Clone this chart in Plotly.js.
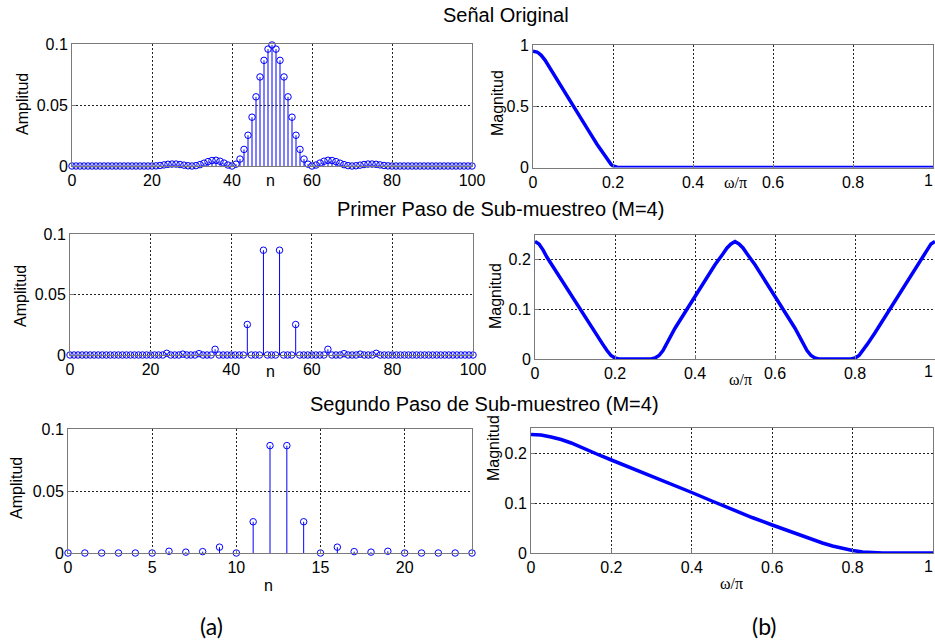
<!DOCTYPE html>
<html>
<head>
<meta charset="utf-8">
<script src="https://cdn.plot.ly/plotly-3.0.1.min.js"></script>
<style>html,body{margin:0;padding:0;background:#fff;}#chart{width:935px;height:642px;}</style>
</head>
<body>
<div id="chart"></div>
<script>
// ---------- DATA ----------
const nOrig = [0,1,2,3,4,5,6,7,8,9,10,11,12,13,14,15,16,17,18,19,20,21,22,23,24,25,26,27,28,29,30,31,32,33,34,35,36,37,38,39,40,41,42,43,44,45,46,47,48,49,50,51,52,53,54,55,56,57,58,59,60,61,62,63,64,65,66,67,68,69,70,71,72,73,74,75,76,77,78,79,80,81,82,83,84,85,86,87,88,89,90,91,92,93,94,95,96,97,98,99,100];
const hOrig = [
  0,0,0,0,0,0,0,0,0,0,
  0,0,0,0,0,0,0,0,0,0,
  0,0.0001,0.0004,0.0009,0.0014,0.0016,0.0016,0.0012,0.0007,0.0002,
  0,0.0003,0.0011,0.0023,0.0036,0.0045,0.0047,0.0039,0.0024,0.0008,
  0,0.0015,0.0057,0.0136,0.0252,0.0400,0.0567,0.0730,0.0866,0.0958,
  0.0992,0.0958,0.0866,0.0730,0.0567,0.0400,0.0252,0.0136,0.0057,0.0015,
  0,0.0008,0.0024,0.0039,0.0047,0.0045,0.0036,0.0023,0.0011,0.0003,
  0,0.0002,0.0007,0.0012,0.0016,0.0016,0.0014,0.0009,0.0004,0.0001,
  0,0,0,0,0,0,0,0,0,0,
  0,0,0,0,0,0,0,0,0,0,
  0];
const hStep1 = [
  0,0,0,0,0,0,0,0,0,0,
  0,0,0,0,0,0,0,0,0,0,
  0,0,0,0,0.0014,0,0,0,0.0007,0,
  0,0,0.0011,0,0,0,0.0047,0,0,0,
  0,0,0,0,0.0252,0,0,0,0.0866,0,
  0,0,0.0866,0,0,0,0.0252,0,0,0,
  0,0,0,0,0.0047,0,0,0,0.0011,0,
  0,0,0.0007,0,0,0,0.0014,0,0,0,
  0,0,0,0,0,0,0,0,0,0,
  0,0,0,0,0,0,0,0,0,0,
  0];
const mDec = [0,1,2,3,4,5,6,7,8,9,10,11,12,13,14,15,16,17,18,19,20,21,22,23,24];
const hStep2 = [0,0,0,0,0,0,0.0014,0.0007,0.0011,0.0047,0,0.0252,0.0866,0.0866,0.0252,0,0.0047,0.0011,0.0007,0.0014,0,0,0,0,0];

const wOrig = [0,0.005,0.01,0.015,0.02,0.03,0.04,0.05,0.06,0.08,0.10,0.12,0.14,0.16,0.17,0.18,0.19,0.195,0.20,0.205,0.21,0.22,0.3,0.4,0.5,0.6,0.7,0.8,0.9,1.0];
const magOrig = [0.95,0.948,0.942,0.932,0.918,0.877,0.823,0.767,0.715,0.61,0.505,0.40,0.295,0.19,0.14,0.09,0.045,0.026,0.012,0.005,0.002,0,0,0,0,0,0,0,0,0];

const wStep1 = [0,0.01,0.02,0.03,0.05,0.10,0.15,0.17,0.18,0.19,0.20,0.21,0.29,0.30,0.31,0.32,0.35,0.40,0.45,0.47,0.48,0.49,0.50,0.51,0.52,0.53,0.55,0.60,0.65,0.68,0.69,0.70,0.71,0.79,0.80,0.81,0.82,0.83,0.85,0.90,0.95,0.97,0.98,0.99,1.0];
const magStep1 = [0.237,0.232,0.220,0.205,0.180,0.116,0.053,0.029,0.017,0.007,0.002,0,0,0.002,0.007,0.017,0.062,0.126,0.19,0.212,0.224,0.232,0.237,0.232,0.224,0.212,0.19,0.126,0.062,0.017,0.007,0.002,0,0,0.002,0.007,0.017,0.029,0.053,0.116,0.180,0.205,0.220,0.232,0.237];

const wStep2 = [0,0.025,0.05,0.075,0.1,0.125,0.15,0.175,0.2,0.25,0.3,0.35,0.4,0.45,0.5,0.55,0.6,0.65,0.7,0.725,0.75,0.775,0.8,0.825,0.85,0.875,0.9,0.95,1.0];
const magStep2 = [0.237,0.236,0.232,0.227,0.220,0.211,0.202,0.194,0.186,0.170,0.153,0.137,0.121,0.104,0.087,0.071,0.056,0.041,0.027,0.020,0.014,0.009,0.005,0.002,0.0005,0,0,0,0];

const titles = ['Señal Original','Primer Paso de Sub-muestreo (M=4)','Segundo Paso de Sub-muestreo (M=4)'];
const nTicks = [0,20,40,60,80,100];
const mTicks = [0,5,10,15,20];
const wTicks = [0,0.2,0.4,0.6,0.8,1];
const wTickText = ['0','0.2','0.4','0.6','0.8',''];   // the "1" at the page edge is drawn as a label below
const wEndLabel = '1';

// ---------- LAYOUT HELPERS ----------
const W = 935, H = 642;
const BLUE = '#0000ff';
const SANS = 'Arial, "Liberation Sans", sans-serif';
const dx = (a,b) => [a/W, Math.min(1,b/W)];
const dy = (top,bottom) => [1-bottom/H, 1-top/H];

function axisBase(extra){
  return Object.assign({
    showgrid:true, griddash:'2px,2px', gridcolor:'#222', gridwidth:1,
    showline:true, linecolor:'#7a7a7a', linewidth:1, mirror:true,
    ticks:'inside', ticklen:4, tickcolor:'#7a7a7a',
    zeroline:false, fixedrange:true, ticklabeloverflow:'allow',
    tickfont:{family:SANS, size:16, color:'#000'}
  }, extra);
}

function stem(x,y,xa,ya){
  return {
    type:'scatter', mode:'markers', x:x, y:y, xaxis:xa, yaxis:ya,
    cliponaxis:false, hoverinfo:'skip', showlegend:false,
    marker:{symbol:'circle-open', size:6.5, color:BLUE, line:{width:1, color:BLUE}},
    error_y:{type:'data', symmetric:false, array:y.map(()=>0), arrayminus:y, width:0, thickness:1, color:BLUE}
  };
}
function curve(x,y,xa,ya){
  return {type:'scatter', mode:'lines', x:x, y:y, xaxis:xa, yaxis:ya, cliponaxis:false,
    hoverinfo:'skip', showlegend:false, line:{color:BLUE, width:3.5}};
}

const data = [
  stem(nOrig,hOrig,'x','y'),
  curve(wOrig,magOrig,'x2','y2'),
  stem(nOrig,hStep1,'x3','y3'),
  curve(wStep1,magStep1,'x4','y4'),
  stem(mDec,hStep2,'x5','y5'),
  curve(wStep2,magStep2,'x6','y6')
];

const ampY = {range:[0,0.1], tickvals:[0,0.05,0.1], ticktext:['0','0.05','0.1']};
function ann(text,x,y,opts){
  return Object.assign({text:text, x:x/W, y:1-y/H, xref:'paper', yref:'paper',
    xanchor:'center', yanchor:'middle', showarrow:false,
    font:{family:SANS, size:16, color:'#000'}}, opts||{});
}
const serif = {font:{family:'"Times New Roman", "Liberation Serif", serif', size:16, color:'#000'}};
const rot = {textangle:-90};
const titleFont = {font:{family:SANS, size:20, color:'#000'}};
const capFont = {font:{family:'Lato, "Noto Sans", sans-serif', size:23, color:'#000'}};
const edge = {xanchor:'right', borderpad:0};

const layout = {
  width:W, height:H, margin:{l:0,r:0,t:0,b:0},
  paper_bgcolor:'#fff', plot_bgcolor:'#fff', showlegend:false,
  font:{family:SANS},
  xaxis: axisBase({domain:dx(72,472), range:[0,100], tickvals:nTicks, anchor:'y'}),
  yaxis: axisBase(Object.assign({domain:dy(44,166), anchor:'x'}, ampY)),
  xaxis2: axisBase({domain:dx(533,933), range:[0,1], tickvals:wTicks, ticktext:wTickText, anchor:'y2'}),
  yaxis2: axisBase({domain:dy(45,167.5), range:[0,1], tickvals:[0,0.5,1], ticktext:['0','0.5','1'], anchor:'x2'}),
  xaxis3: axisBase({domain:dx(70,473), range:[0,100], tickvals:nTicks, anchor:'y3'}),
  yaxis3: axisBase(Object.assign({domain:dy(234,355), anchor:'x3'}, ampY)),
  xaxis4: axisBase({domain:dx(535,935), range:[0,1], tickvals:wTicks, ticktext:wTickText, anchor:'y4'}),
  yaxis4: axisBase({domain:dy(235,359), range:[0,0.25], tickvals:[0,0.1,0.2], ticktext:['0','0.1','0.2'], anchor:'x4'}),
  xaxis5: axisBase({domain:dx(68,472), range:[0,24], tickvals:mTicks, anchor:'y5'}),
  yaxis5: axisBase(Object.assign({domain:dy(429,553), anchor:'x5'}, ampY)),
  xaxis6: axisBase({domain:dx(531,933), range:[0,1], tickvals:wTicks, ticktext:wTickText, anchor:'y6'}),
  yaxis6: axisBase({domain:dy(428,553), range:[0,0.25], tickvals:[0,0.1,0.2], ticktext:['0','0.1','0.2'], anchor:'x6'}),
  annotations: [
    ann(titles[0], 506, 15, titleFont),
    ann(titles[1], 500, 209, titleFont),
    ann(titles[2], 484, 404, titleFont),
    ann('Amplitud', 22, 104, rot),
    ann('n', 270, 181),
    ann('Magnitud', 498, 103, rot),
    ann('ω/π', 735, 183, serif),
    ann('Amplitud', 20, 296, rot),
    ann('n', 270, 372),
    ann('Magnitud', 495, 296, rot),
    ann('ω/π', 740, 380, serif),
    ann('Amplitud', 16, 488, rot),
    ann('n', 268, 585),
    ann('Magnitud', 493, 448, rot),
    ann('ω/π', 731, 583, serif),
    ann(wEndLabel, 934, 181, edge),
    ann(wEndLabel, 934, 372, edge),
    ann(wEndLabel, 934, 566, edge),
    ann('(a)', 211, 626, capFont),
    ann('(b)', 764, 626, capFont)
  ]
};

Plotly.newPlot('chart', data, layout, {staticPlot:true, displayModeBar:false});
</script>
</body>
</html>
